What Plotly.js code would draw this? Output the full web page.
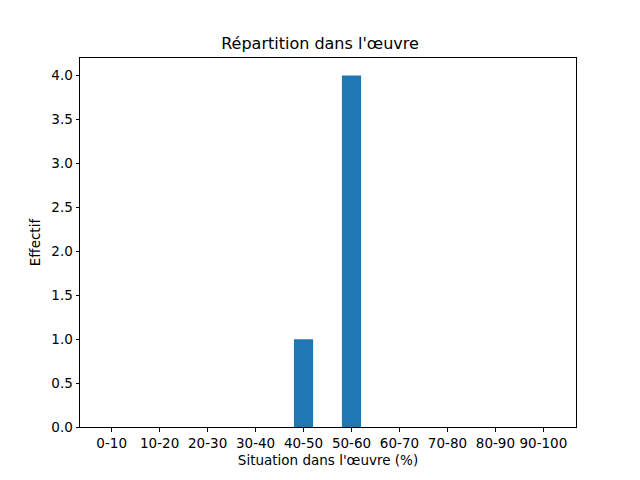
<!DOCTYPE html>
<html>
<head>
<meta charset="utf-8">
<script src="https://cdn.plot.ly/plotly-3.0.1.min.js"></script>
<style>html,body{margin:0;padding:0;background:#fff;}#chart{width:640px;height:480px;}</style>
</head>
<body>
<div id="chart"></div>
<script>
const categories = ["0-10","10-20","20-30","30-40","40-50","50-60","60-70","70-80","80-90","90-100"];
const counts = [0,0,0,0,1,4,0,0,0,0];
const yTicks = [0,0.5,1,1.5,2,2.5,3,3.5,4];

const font = {family: "DejaVu Sans, sans-serif", color: "#000", size: 13.5};
Plotly.newPlot("chart", [{
  type: "bar",
  x: categories,
  y: counts,
  width: 0.4,
  marker: {color: "#1f77b4", line: {width: 0}},
  hoverinfo: "skip"
}], {
  width: 640, height: 480,
  margin: {l: 80, r: 64, t: 58, b: 53},
  paper_bgcolor: "#fff", plot_bgcolor: "#fff",
  font: font,
  showlegend: false,
  title: {text: "Répartition dans l'œuvre", font: {family: font.family, size: 16, color: "#000"}, x: 0.5, xanchor: "center", y: 1 - 43/480, yanchor: "middle"},
  xaxis: {
    type: "category",
    range: [-0.66, 9.68],
    showgrid: false, zeroline: false,
    showline: true, linecolor: "#000", linewidth: 1, mirror: true,
    ticks: "outside", ticklen: 3.5, tickwidth: 1, tickcolor: "#000",
    tickfont: font,
    title: {text: "Situation dans l'œuvre (%)", font: font, standoff: 5}
  },
  yaxis: {
    range: [0, 4.2],
    tickvals: yTicks,
    ticktext: yTicks.map(v => v.toFixed(1)),
    showgrid: false, zeroline: false,
    showline: true, linecolor: "#000", linewidth: 1, mirror: true,
    ticks: "outside", ticklen: 3.5, tickwidth: 1, tickcolor: "#000",
    tickfont: font,
    title: {text: "Effectif", font: font, standoff: 7}
  }
}, {staticPlot: true});
</script>
</body>
</html>
